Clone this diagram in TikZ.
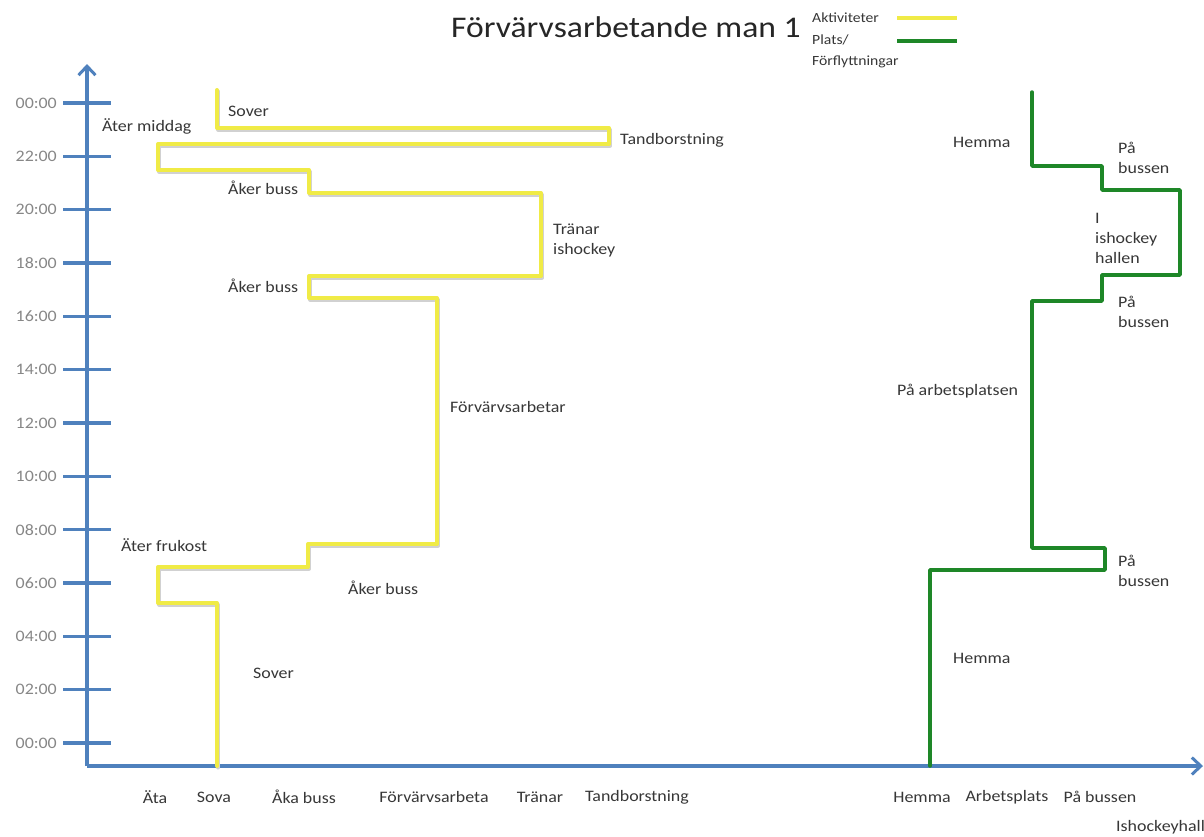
\documentclass[tikz,border=0pt]{standalone}
\usepackage{fontspec}
\setmainfont{Carlito}[FakeStretch=1.12]
\usetikzlibrary{arrows.meta}
\definecolor{axisblue}{RGB}{79,129,189}
\definecolor{actyellow}{RGB}{240,235,70}
\definecolor{placegreen}{RGB}{30,135,40}
\definecolor{lbl}{RGB}{55,55,55}
\definecolor{ticklbl}{RGB}{135,135,135}
\tikzset{
  axisline/.style={axisblue, line width=3.5pt},
  tickline/.style={axisblue, line width=3.5pt},
  actline/.style={actyellow, line width=4pt, line join=round, line cap=round},
  shadowline/.style={black!18, line width=4pt, line join=round, line cap=round},
  placeline/.style={placegreen, line width=3.5pt, line join=round, line cap=round},
  lab/.style={inner sep=0pt, anchor=west, text=lbl, font=\fontsize{16}{20}\selectfont, align=left},
  axlab/.style={inner sep=0pt, anchor=center, text=lbl, font=\fontsize{16}{20}\selectfont},
  ticklab/.style={inner sep=0pt, anchor=east, text=ticklbl, font=\fontsize{16}{20}\selectfont},
  leglab/.style={inner sep=0pt, anchor=west, text=lbl, font=\fontsize{14}{16}\selectfont}
}
\begin{document}
\begin{tikzpicture}[x=1pt, y=-1pt]
\useasboundingbox[fill=white] (0,0) rectangle (1204,836);

% title and legend
\node[inner sep=0pt, anchor=base west, text=black!85, font=\fontsize{30}{36}\selectfont] (title) at (451,37) {Förvärvsarbetande man 1};
\node[leglab] (legA) at (812,18) {Aktiviteter};
\node[leglab] (legP) at (812,40) {Plats/};
\node[leglab] (legF) at (812,62) {Förflyttningar};
\coordinate (ya) at (897,18); \coordinate (yb) at (957,18);
\coordinate (ga) at (897,41); \coordinate (gb) at (957,41);
\draw[actyellow, line width=4pt] (ya) -- (yb);
\draw[placegreen, line width=3.5pt] (ga) -- (gb);

% axes
\coordinate (origin) at (87,766);
\coordinate (ytop) at (87,64);
\coordinate (xend) at (1203,766);
\draw[axisline, -{Straight Barb[length=9pt, width=17pt, line width=3pt]}] (origin) -- (ytop);
\draw[axisline, -{Straight Barb[length=9pt, width=17pt, line width=3pt]}] (origin) -- (xend);

% ticks and tick labels
\foreach \lab [count=\k from 0] in {00:00,22:00,20:00,18:00,16:00,14:00,12:00,10:00,08:00,06:00,04:00,02:00,00:00}{
  \pgfmathsetmacro{\yy}{103+53.33*\k}
  \draw[tickline] (63,\yy) -- (111,\yy);
  \node[ticklab] (t\k) at (57,\yy) {\lab};
}

% activities (yellow)
\begin{scope}[shift={(1.2,1.5)}]
\draw[shadowline] (217,766) -- (217,603) -- (158,603) -- (158,567) -- (308,567) -- (308,544) -- (437,544) -- (437,298) -- (309,298) -- (309,276) -- (541,276) -- (541,193) -- (309,193) -- (309,170) -- (158,170) -- (158,144) -- (609,144) -- (609,128) -- (217,128) -- (217,90);
\end{scope}
\draw[actline] (217,766) -- (217,603) -- (158,603) -- (158,567) -- (308,567) -- (308,544) -- (437,544) -- (437,298) -- (309,298) -- (309,276) -- (541,276) -- (541,193) -- (309,193) -- (309,170) -- (158,170) -- (158,144) -- (609,144) -- (609,128) -- (217,128) -- (217,90);

% places (green)
\draw[placeline] (930,766) -- (930,570) -- (1105,570) -- (1105,548) -- (1032,548) -- (1032,301) -- (1102,301) -- (1102,275) -- (1180,275) -- (1180,190) -- (1102,190) -- (1102,166) -- (1032,166) -- (1032,92);

% activity labels
\node[lab] (sover1) at (228,111) {Sover};
\node[lab] (middag) at (102,126) {Äter middag};
\node[lab] (tand) at (620,140) {Tandborstning};
\node[lab] (aker1) at (228,188) {Åker buss};
\node[lab] (tranar) at (553,240) {Tränar\\ishockey};
\node[lab] (aker2) at (228,286) {Åker buss};
\node[lab] (forv) at (450,407) {Förvärvsarbetar};
\node[lab] (frukost) at (121,545) {Äter frukost};
\node[lab] (aker3) at (348,588) {Åker buss};
\node[lab] (sover2) at (253,673) {Sover};

% place labels
\node[lab] (hemma1) at (953,142) {Hemma};
\node[lab] (pab1) at (1118,158) {På\\bussen};
\node[lab] (ishall) at (1095,238) {I\\ishockey\\hallen};
\node[lab] (pab2) at (1118,312) {På\\bussen};
\node[lab] (arbets) at (897,391) {På arbetsplatsen};
\node[lab] (pab3) at (1118,571) {På\\bussen};
\node[lab] (hemma2) at (953,658) {Hemma};

% x axis labels
\node[axlab] (xAta) at (155,797) {Äta};
\node[axlab] (xSova) at (214,797) {Sova};
\node[axlab] (xAka) at (304,797) {Åka buss};
\node[axlab] (xForv) at (434,797) {Förvärvsarbeta};
\node[axlab] (xTran) at (540,797) {Tränar};
\node[axlab] (xTand) at (637,797) {Tandborstning};
\node[axlab] (xHem) at (922,797) {Hemma};
\node[axlab] (xArb) at (1007,797) {Arbetsplats};
\node[axlab] (xPab) at (1100,797) {På bussen};
\node[lab] (xIsh) at (1116,827) {Ishockeyhall};
\end{tikzpicture}
\end{document}
